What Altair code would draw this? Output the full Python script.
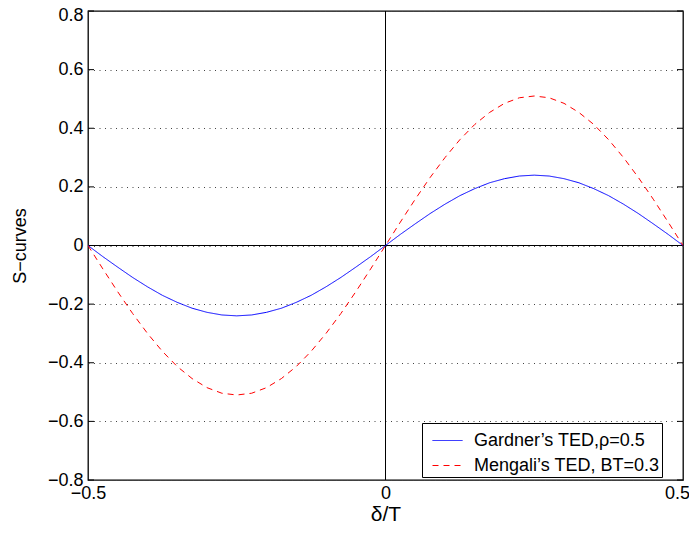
import altair as alt
import pandas as pd

# ---- data ----
x_vals = [-0.5, -0.475, -0.45, -0.425, -0.4, -0.375, -0.35, -0.325, -0.3, -0.275,
          -0.25, -0.225, -0.2, -0.175, -0.15, -0.125, -0.1, -0.075, -0.05, -0.025,
          0.0, 0.025, 0.05, 0.075, 0.1, 0.125, 0.15, 0.175, 0.2, 0.225,
          0.25, 0.275, 0.3, 0.325, 0.35, 0.375, 0.4, 0.425, 0.45, 0.475, 0.5]
gardner = [0.0, -0.038, -0.074, -0.109, -0.141, -0.170, -0.194, -0.214, -0.228, -0.237,
           -0.240, -0.237, -0.228, -0.214, -0.194, -0.170, -0.141, -0.109, -0.074, -0.038,
           0.0, 0.038, 0.074, 0.109, 0.141, 0.170, 0.194, 0.214, 0.228, 0.237,
           0.240, 0.237, 0.228, 0.214, 0.194, 0.170, 0.141, 0.109, 0.074, 0.038, 0.0]
mengali = [0.0, -0.080, -0.158, -0.232, -0.300, -0.361, -0.413, -0.454, -0.485, -0.504,
           -0.510, -0.504, -0.485, -0.454, -0.413, -0.361, -0.300, -0.232, -0.158, -0.080,
           0.0, 0.080, 0.158, 0.232, 0.300, 0.361, 0.413, 0.454, 0.485, 0.504,
           0.510, 0.504, 0.485, 0.454, 0.413, 0.361, 0.300, 0.232, 0.158, 0.080, 0.0]
series_names = ["Gardner\u2019s TED,\u03c1=0.5", "Mengali\u2019s TED, BT=0.3"]
series_colors = ["#0000FF", "#FF0000"]
series_dash = [[1, 0], [6, 5]]
y_ticks = [-0.8, -0.6, -0.4, -0.2, 0.0, 0.2, 0.4, 0.6, 0.8]
x_ticks = [-0.5, 0.0, 0.5]

rows = []
for xv, g, m in zip(x_vals, gardner, mengali):
    rows.append({"x": xv, "y": g, "series": series_names[0]})
    rows.append({"x": xv, "y": m, "series": series_names[1]})
df = pd.DataFrame(rows)
ticks_df = pd.DataFrame({"t": y_ticks})

W, H = 595, 469
FONT = "Liberation Sans"
xscale = alt.Scale(domain=[-0.5, 0.5], nice=False, zero=False)
yscale = alt.Scale(domain=[-0.8, 0.8], nice=False, zero=False)
lab = "datum.value == 0 ? '0' : format(datum.value, '.1f')"

leg = alt.Legend(title=None, orient="none", legendX=334, legendY=412, strokeColor="black",
                 fillColor="white", padding=2, symbolType="stroke", symbolSize=900,
                 symbolStrokeWidth=1, symbolOffset=8, labelOffset=11, labelFontSize=18,
                 labelFont=FONT, labelColor="black", rowPadding=-5, labelLimit=400,
                 cornerRadius=0)

lines = alt.Chart(df).mark_line(strokeWidth=1, clip=True).encode(
    x=alt.X("x:Q", scale=xscale,
            axis=alt.Axis(values=x_ticks, title="\u03b4/T", labelExpr=lab, grid=False,
                          labelFlush=False, labelOverlap=False, labelPadding=4,
                          labelOffset={"condition": {"test": "datum.value > 0.49", "value": -6},
                                       "value": 0},
                          titlePadding=1, titleFontSize=21)),
    y=alt.Y("y:Q", scale=yscale,
            axis=alt.Axis(values=y_ticks, title="S\u2212curves", labelExpr=lab, grid=True,
                          gridDash=[1, 4.5], gridColor="#444444", gridOpacity=1,
                          labelFlush=False, labelOverlap=False, labelPadding=5,
                          labelOffset={"condition": {"test": "datum.value > 0.79", "value": 4},
                                       "value": 0},
                          titlePadding=18, titleFontSize=18)),
    color=alt.Color("series:N", scale=alt.Scale(domain=series_names, range=series_colors),
                    legend=leg),
    strokeDash=alt.StrokeDash("series:N", scale=alt.Scale(domain=series_names, range=series_dash),
                              legend=leg),
)

zero_h = alt.Chart(ticks_df).mark_rule(color="black", strokeWidth=1).encode(y=alt.datum(0, scale=yscale))
zero_v = alt.Chart(ticks_df).mark_rule(color="black", strokeWidth=1).encode(x=alt.datum(0, scale=xscale))
ticks_l = alt.Chart(ticks_df).mark_rule(color="black", strokeWidth=1).encode(
    y=alt.Y("t:Q", scale=yscale), x=alt.value(0), x2=alt.value(6))
ticks_r = alt.Chart(ticks_df).mark_rule(color="black", strokeWidth=1).encode(
    y=alt.Y("t:Q", scale=yscale), x=alt.value(W - 6), x2=alt.value(W))

chart = alt.layer(zero_h, zero_v, ticks_l, ticks_r, lines).properties(
    width=W, height=H, autosize="none", background="white",
    padding={"left": 80, "top": 3, "right": 6, "bottom": 50},
).configure_view(stroke="black", strokeWidth=1.3).configure_axis(
    labelFont=FONT, labelFontSize=18, labelColor="black", titleFont=FONT,
    titleColor="black", titleFontWeight="normal", domain=False, ticks=False,
)

chart.save("out.html", embed_options={"renderer": "svg", "actions": False})
